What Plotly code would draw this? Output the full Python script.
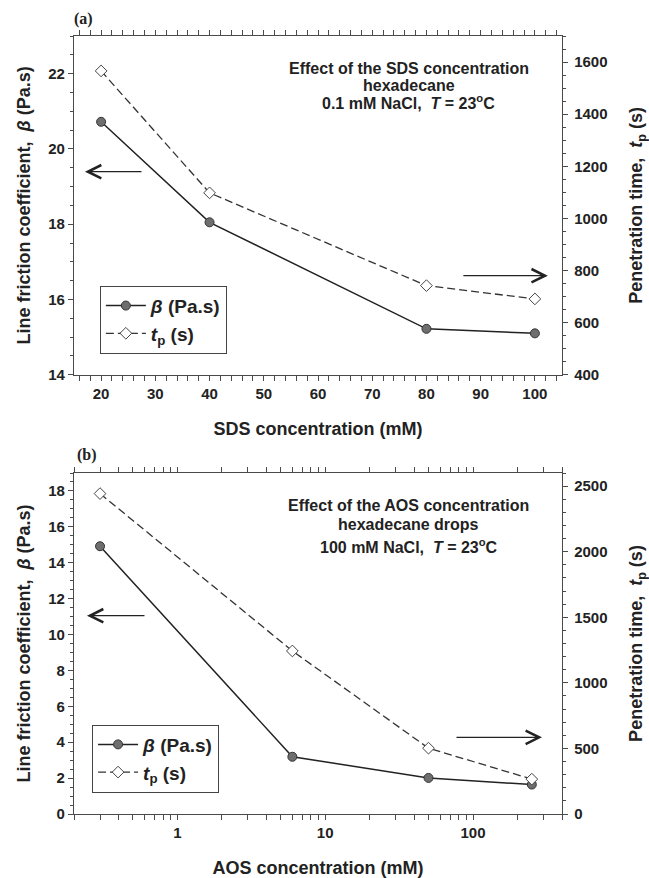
import numpy as np
import plotly.graph_objects as go

# Panel (a): SDS
sds_conc = [20, 40, 80, 100]
sds_beta = [20.72, 18.05, 15.22, 15.10]
sds_tp = [1566, 1098, 742, 691]

# Panel (b): AOS
aos_conc = [0.3, 6, 50, 250]
aos_beta = [14.92, 3.19, 2.01, 1.64]
aos_tp = [2443, 1243, 502, 266]

beta_name = "<i>β</i> (Pa.s)"
tp_name = "<i>t</i><sub>p</sub> (s)"

FONT = "Liberation Sans, Arial, sans-serif"
AX = "#4a4a4a"
circ = dict(symbol="circle", size=9, color="#6e6e6e", line=dict(color="#333333", width=1))
diam = dict(symbol="diamond", size=9, color="white", line=dict(color="#444444", width=1))
solid = dict(color="#222222", width=1.5)
dashed = dict(color="#333333", width=1.3, dash="8px,4px")

fig = go.Figure()
fig.add_trace(go.Scatter(x=sds_conc, y=sds_beta, mode="lines+markers", name=beta_name,
                         line=solid, marker=circ, xaxis="x", yaxis="y", legend="legend"))
fig.add_trace(go.Scatter(x=sds_conc, y=sds_tp, mode="lines+markers", name=tp_name,
                         line=dashed, marker=diam, xaxis="x", yaxis="y2", legend="legend"))
fig.add_trace(go.Scatter(x=aos_conc, y=aos_beta, mode="lines+markers", name=beta_name,
                         line=solid, marker=circ, xaxis="x2", yaxis="y3", legend="legend2"))
fig.add_trace(go.Scatter(x=aos_conc, y=aos_tp, mode="lines+markers", name=tp_name,
                         line=dashed, marker=diam, xaxis="x2", yaxis="y4", legend="legend2"))

tickfont = dict(family=FONT, size=15, color="#222", weight="bold")
titlefont = dict(family=FONT, size=18, color="#222", weight="bold")

def ax_common(**kw):
    d = dict(showline=True, linecolor=AX, linewidth=1.3, ticks="outside", ticklen=5,
             tickcolor=AX, tickwidth=1.2, showgrid=False, zeroline=False, automargin=False,
             tickfont=tickfont, title_font=titlefont)
    d.update(kw)
    return d

top_dom = [0.5646, 1.0]
bot_dom = [0.0, 0.4383]

fig.update_layout(
    width=649, height=878,
    margin=dict(l=74, r=87, t=36, b=64),
    plot_bgcolor="white", paper_bgcolor="white",
    font=dict(family=FONT, color="#222"),
    xaxis=ax_common(domain=[0, 1], anchor="y", range=[15, 105], dtick=10, tick0=0,
                    mirror="allticks",
                    minor=dict(dtick=2, ticks="outside", ticklen=3, tickcolor=AX),
                    title=dict(text="SDS concentration (mM)", standoff=21)),
    yaxis=ax_common(domain=top_dom, anchor="x", range=[14, 23], dtick=2, tick0=0,
                    minor=dict(dtick=0.5, ticks="outside", ticklen=3, tickcolor=AX),
                    title=dict(text="Line friction coefficient,  <i>β</i> (Pa.s)", standoff=12)),
    yaxis2=ax_common(overlaying="y", side="right", anchor="x", range=[400, 1700], dtick=200, tick0=0,
                     minor=dict(dtick=50, ticks="outside", ticklen=3, tickcolor=AX),
                     ticklabelstandoff=3,
                     title=dict(text="Penetration time,  <i>t</i><sub>p</sub> (s)", standoff=23)),
    xaxis2=ax_common(domain=[0, 1], anchor="y3", type="log",
                     range=[np.log10(0.2), np.log10(400)], dtick=1, mirror="allticks",
                     minor=dict(dtick="D1", ticks="outside", ticklen=3, tickcolor=AX),
                     title=dict(text="AOS concentration (mM)", standoff=26)),
    yaxis3=ax_common(domain=bot_dom, anchor="x2", range=[0, 19], dtick=2, tick0=0,
                     minor=dict(dtick=0.5, ticks="outside", ticklen=3, tickcolor=AX),
                     title=dict(text="Line friction coefficient,  <i>β</i> (Pa.s)", standoff=12)),
    yaxis4=ax_common(overlaying="y3", side="right", anchor="x2", range=[0, 2600], dtick=500, tick0=0,
                     minor=dict(dtick=100, ticks="outside", ticklen=3, tickcolor=AX),
                     ticklabelstandoff=3,
                     title=dict(text="Penetration time,  <i>t</i><sub>p</sub> (s)", standoff=23)),
    legend=dict(x=0.053, y=0.679, xanchor="left", yanchor="top", bgcolor="white",
                bordercolor="#444", borderwidth=1, font=dict(family=FONT, size=19, weight="bold"),
                tracegroupgap=0, itemwidth=40),
    legend2=dict(x=0.037, y=0.115, xanchor="left", yanchor="top", bgcolor="white",
                 bordercolor="#444", borderwidth=1, font=dict(family=FONT, size=19, weight="bold"),
                 tracegroupgap=0, itemwidth=40),
)

annos = []
serif = dict(family="Liberation Serif, Times New Roman, serif", size=16, color="#222", weight="bold")
for lab, x, y in [("(a)", 0.019, 1.0222), ("(b)", 0.027, 0.4618)]:
    annos.append(dict(text=lab, x=x, y=y, xref="paper", yref="paper", xanchor="center",
                      yanchor="middle", showarrow=False, font=serif))

txtfont = dict(family=FONT, size=16, color="#222", weight="bold")
top_lines = ["Effect of the SDS concentration", "hexadecane", "0.1 mM NaCl,  <i>T</i> = 23<sup>o</sup>C"]
top_ys = [0.958, 0.936, 0.9155]
bot_lines = ["Effect of the AOS concentration", "hexadecane drops", "100 mM NaCl,  <i>T</i> = 23<sup>o</sup>C"]
bot_ys = [0.3963, 0.3719, 0.3449]
for t, y in list(zip(top_lines, top_ys)) + list(zip(bot_lines, bot_ys)):
    annos.append(dict(text=t, x=0.686, y=y, xref="paper", yref="paper", xanchor="center",
                      yanchor="middle", showarrow=False, font=txtfont))

arrows = [(0.0225, 0.8256, 58), (0.971, 0.6919, -86), (0.0266, 0.2549, 59), (0.959, 0.0985, -87)]
for x, y, ax in arrows:
    annos.append(dict(text="", x=x, y=y, xref="paper", yref="paper", ax=ax, ay=0,
                      showarrow=True, arrowhead=5, arrowsize=2.2, arrowwidth=1.2, arrowcolor="#222"))
fig.update_layout(annotations=annos)

fig.write_html("out.html")
